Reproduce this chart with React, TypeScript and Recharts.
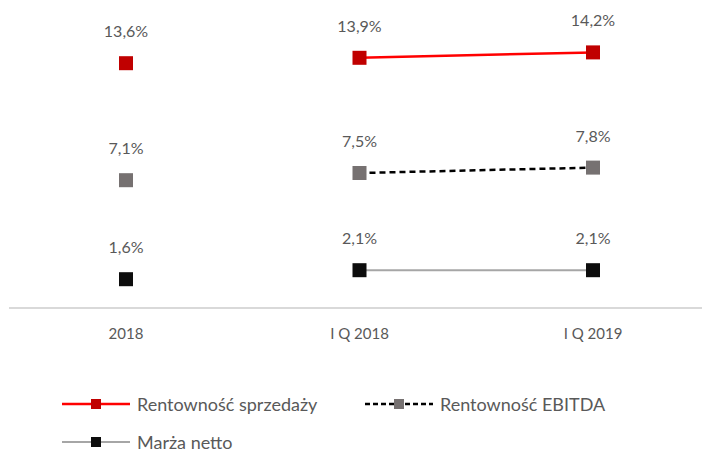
import { LineChart, Line, XAxis, YAxis, LabelList } from "recharts";

const categories = ["2018", "I Q 2018", "I Q 2019"];
const salesMargin = [13.6, 13.9, 14.2];
const ebitdaMargin = [7.1, 7.5, 7.8];
const netMargin = [1.6, 2.1, 2.1];

const series = [
  { key: "sales", name: "Rentowność sprzedaży", values: salesMargin, line: "#ff0000", marker: "#c00000", dash: undefined, width: 2.5 },
  { key: "ebitda", name: "Rentowność EBITDA", values: ebitdaMargin, line: "#000000", marker: "#767171", dash: "6 4", width: 2.5 },
  { key: "net", name: "Marża netto", values: netMargin, line: "#a6a6a6", marker: "#0d0d0d", dash: undefined, width: 2 },
];

// the annual point stands alone, the two quarters are joined
const data = categories.map((cat, i) => {
  const row: Record<string, string | number | null> = { cat };
  series.forEach((s) => {
    row[s.key + "Year"] = i === 0 ? s.values[i] : null;
    row[s.key] = i > 0 ? s.values[i] : null;
  });
  return row;
});

const FONT = "Lato, 'Open Sans', sans-serif";
const TEXT = "#595959";

const fmt = (v: number) => v.toFixed(1).replace(".", ",") + "%";

const square = (fill: string, size: number) => (props: any) => {
  const { cx, cy, index, value } = props;
  if (value == null || cx == null || cy == null) return <g key={index} />;
  return <rect key={index} x={cx - size / 2} y={cy - size / 2} width={size} height={size} fill={fill} />;
};

const valueLabel = (props: any) => {
  const { x, y, value, index } = props;
  if (value == null) return <g key={index} />;
  return (
    <text key={index} x={x} y={y - 30} textAnchor="middle" dominantBaseline="middle" fontSize={16} fill={TEXT} fontFamily={FONT}>
      {fmt(value)}
    </text>
  );
};

function LegendItem({ s }: { s: (typeof series)[number] }) {
  return (
    <div style={{ display: "flex", alignItems: "center" }}>
      <svg width={70} height={12} style={{ marginRight: 6 }}>
        <line x1={1} y1={6} x2={69} y2={6} stroke={s.line} strokeWidth={s.width} strokeDasharray={s.dash ? "5 3" : undefined} />
        <rect x={30} y={1} width={10} height={10} fill={s.marker} />
      </svg>
      <span>{s.name}</span>
    </div>
  );
}

export default function App() {
  return (
    <div style={{ position: "absolute", left: 0, top: 0, width: 702, height: 450, background: "#fff", overflow: "hidden" }}>
      <LineChart width={702} height={450} data={data} margin={{ top: 20, right: 0, bottom: 112, left: 9 }}>
        <XAxis
          dataKey="cat"
          padding={{ left: 117, right: 109 }}
          axisLine={{ stroke: "#d9d9d9", strokeWidth: 2 }}
          tickLine={false}
          tickMargin={14}
          height={30}
          tick={{ fontSize: 15, fill: TEXT, fontFamily: FONT }}
        />
        <YAxis hide domain={[0, 16]} />
        {series.map((s) => (
          <Line
            key={s.key + "Year"}
            dataKey={s.key + "Year"}
            stroke="none"
            dot={square(s.marker, 14)}
            activeDot={false}
            isAnimationActive={false}
          >
            <LabelList dataKey={s.key + "Year"} content={valueLabel} />
          </Line>
        ))}
        {series.map((s) => (
          <Line
            key={s.key}
            dataKey={s.key}
            stroke={s.line}
            strokeWidth={s.width}
            strokeDasharray={s.dash}
            dot={square(s.marker, 14)}
            activeDot={false}
            isAnimationActive={false}
          >
            <LabelList dataKey={s.key} content={valueLabel} />
          </Line>
        ))}
      </LineChart>
      <div style={{ position: "absolute", left: 61, top: 393, fontFamily: FONT, fontSize: 18, color: TEXT }}>
        <div style={{ display: "flex", height: 22 }}>
          <div style={{ width: 303 }}>
            <LegendItem s={series[0]} />
          </div>
          <LegendItem s={series[1]} />
        </div>
        <div style={{ marginTop: 16, height: 22 }}>
          <LegendItem s={series[2]} />
        </div>
      </div>
    </div>
  );
}
